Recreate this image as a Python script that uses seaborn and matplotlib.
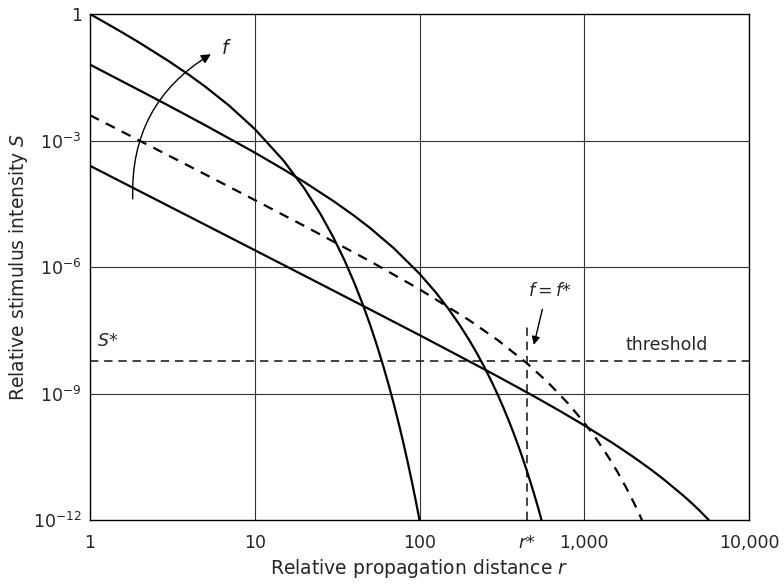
import numpy as np
import pandas as pd
import matplotlib
matplotlib.use("Agg")
import matplotlib.pyplot as plt
import matplotlib.transforms as mtransforms
import seaborn as sns

# values (r, log10 S)
r_a = [1, 1.5, 2, 3, 4, 5, 7, 10, 15, 20, 25, 30, 35, 40, 45, 50, 55, 60, 65, 70, 75, 80, 85, 90, 95, 100]
logs_a = [0, -0.392, -0.683, -1.116, -1.446, -1.721, -2.175, -2.727, -3.483, -4.137, -4.735, -5.297,
          -5.835, -6.355, -6.861, -7.357, -7.844, -8.323, -8.797, -9.265, -9.729, -10.189, -10.646,
          -11.099, -11.55, -12.0]

r_b = [1, 2, 3, 5, 10, 15, 20, 30, 40, 50, 70, 100, 125, 150, 175, 200, 225, 250, 275, 300,
       325, 350, 375, 400, 425, 450, 475, 500, 525, 550]
logs_b = [-1.2, -1.812, -2.173, -2.637, -3.287, -3.688, -3.986, -4.435, -4.781, -5.072, -5.558,
          -6.158, -6.594, -6.994, -7.370, -7.728, -8.072, -8.406, -8.731, -9.048, -9.360, -9.666,
          -9.968, -10.267, -10.561, -10.853, -11.141, -11.428, -11.71, -12.0]

r_c = [1, 2, 5, 10, 20, 50, 100, 200, 300, 450, 600, 800, 1000, 1150, 1300, 1450, 1600, 1800,
       2000, 2100, 2240]
logs_c = [-2.4, -3.003, -3.803, -4.412, -5.027, -5.861, -6.528, -7.260, -7.740, -8.287, -8.731,
          -9.240, -9.693, -10.008, -10.309, -10.598, -10.877, -11.239, -11.589, -11.760, -12.0]

r_d = [1, 2, 5, 10, 20, 50, 100, 250, 300, 500, 700, 1000, 1500, 2000, 2500, 3000, 4000, 4500,
       5000, 5700]
logs_d = [-3.6, -4.202, -4.998, -5.601, -6.205, -7.006, -7.615, -8.435, -8.600, -9.075, -9.398,
          -9.755, -10.184, -10.512, -10.783, -11.019, -11.424, -11.603, -11.773, -12.0]

s_star = 10 ** -8.22
r_star = 448

x_ticks = [1, 10, 100, r_star, 1000, 10000]
x_labels = ["1", "10", "100", "$r$*", "1,000", "10,000"]
y_ticks = [1e-12, 1e-9, 1e-6, 1e-3, 1]
y_labels = ["$10^{-12}$", "$10^{-9}$", "$10^{-6}$", "$10^{-3}$", "1"]

FS = 12.5

sns.set_style("white")
plt.rcParams["font.family"] = ["DejaVu Sans"]
plt.rcParams["mathtext.fontset"] = "dejavusans"

fig = plt.figure(figsize=(7.84, 5.85), dpi=100)
ax = fig.add_axes([90 / 784, 65 / 585, 659 / 784, 506 / 585])
ax.set_xscale("log")
ax.set_yscale("log")

for rr, ll, dashed in [(r_a, logs_a, False), (r_b, logs_b, False),
                       (r_c, logs_c, True), (r_d, logs_d, False)]:
    df = pd.DataFrame({"r": rr, "S": 10 ** np.array(ll)})
    sns.lineplot(data=df, x="r", y="S", ax=ax, color="black", lw=1.6, sort=False,
                 linestyle=(0, (4.5, 3.5)) if dashed else "-", zorder=3)

# grid at decade ticks
for xv in [10, 100, 1000]:
    ax.axvline(xv, color="#333333", lw=0.8, zorder=1)
for yv in [1e-9, 1e-6, 1e-3]:
    ax.axhline(yv, color="#333333", lw=0.8, zorder=1)

# threshold and r*
ax.axhline(s_star, color="#222222", lw=1.2, linestyle=(0, (5, 3.5)), zorder=2)
ax.plot([r_star, r_star], [1e-12, 10 ** -7.32], color="#222222", lw=1.2,
        linestyle=(0, (5, 3.5)), zorder=2)

ax.set_xlim(1, 10000)
ax.set_ylim(1e-12, 1)
ax.set_xticks(x_ticks)
ax.set_xticklabels(x_labels)
ax.set_yticks(y_ticks)
ax.set_yticklabels(y_labels)
ax.minorticks_off()
ax.tick_params(length=0, labelsize=FS)
ax.tick_params(axis="x", pad=10)
ax.tick_params(axis="y", pad=6)
for sp in ax.spines.values():
    sp.set_color("black")
    sp.set_linewidth(1.0)

ax.set_xlabel("Relative propagation distance $r$", fontsize=13.5, labelpad=4)
ax.set_ylabel("Relative stimulus intensity $S$", fontsize=13.5, labelpad=2)

# annotations
ax.annotate("", xy=(5.6, 10 ** -0.92), xytext=(1.82, 10 ** -4.45),
            arrowprops=dict(arrowstyle="-|>", color="black", lw=1.0,
                            connectionstyle="arc3,rad=-0.3", mutation_scale=14))
ax.text(6.7, 10 ** -0.81, "$f$", fontsize=FS + 1, ha="center", va="center")

ax.annotate("", xy=(490, 10 ** -7.91), xytext=(562, 10 ** -6.94),
            arrowprops=dict(arrowstyle="-|>", color="black", lw=1.0, mutation_scale=12))
ax.text(620, 10 ** -6.56, "$f = f$*", fontsize=FS, ha="center", va="center")
ax.text(3160, 10 ** -7.84, "threshold", fontsize=FS, ha="center", va="center")

trans = mtransforms.blended_transform_factory(ax.transAxes, ax.transData)
ax.text(0.026, 10 ** -7.75, "$S$*", transform=trans, fontsize=FS, ha="center", va="center")

fig.savefig("out.png", dpi=100)
